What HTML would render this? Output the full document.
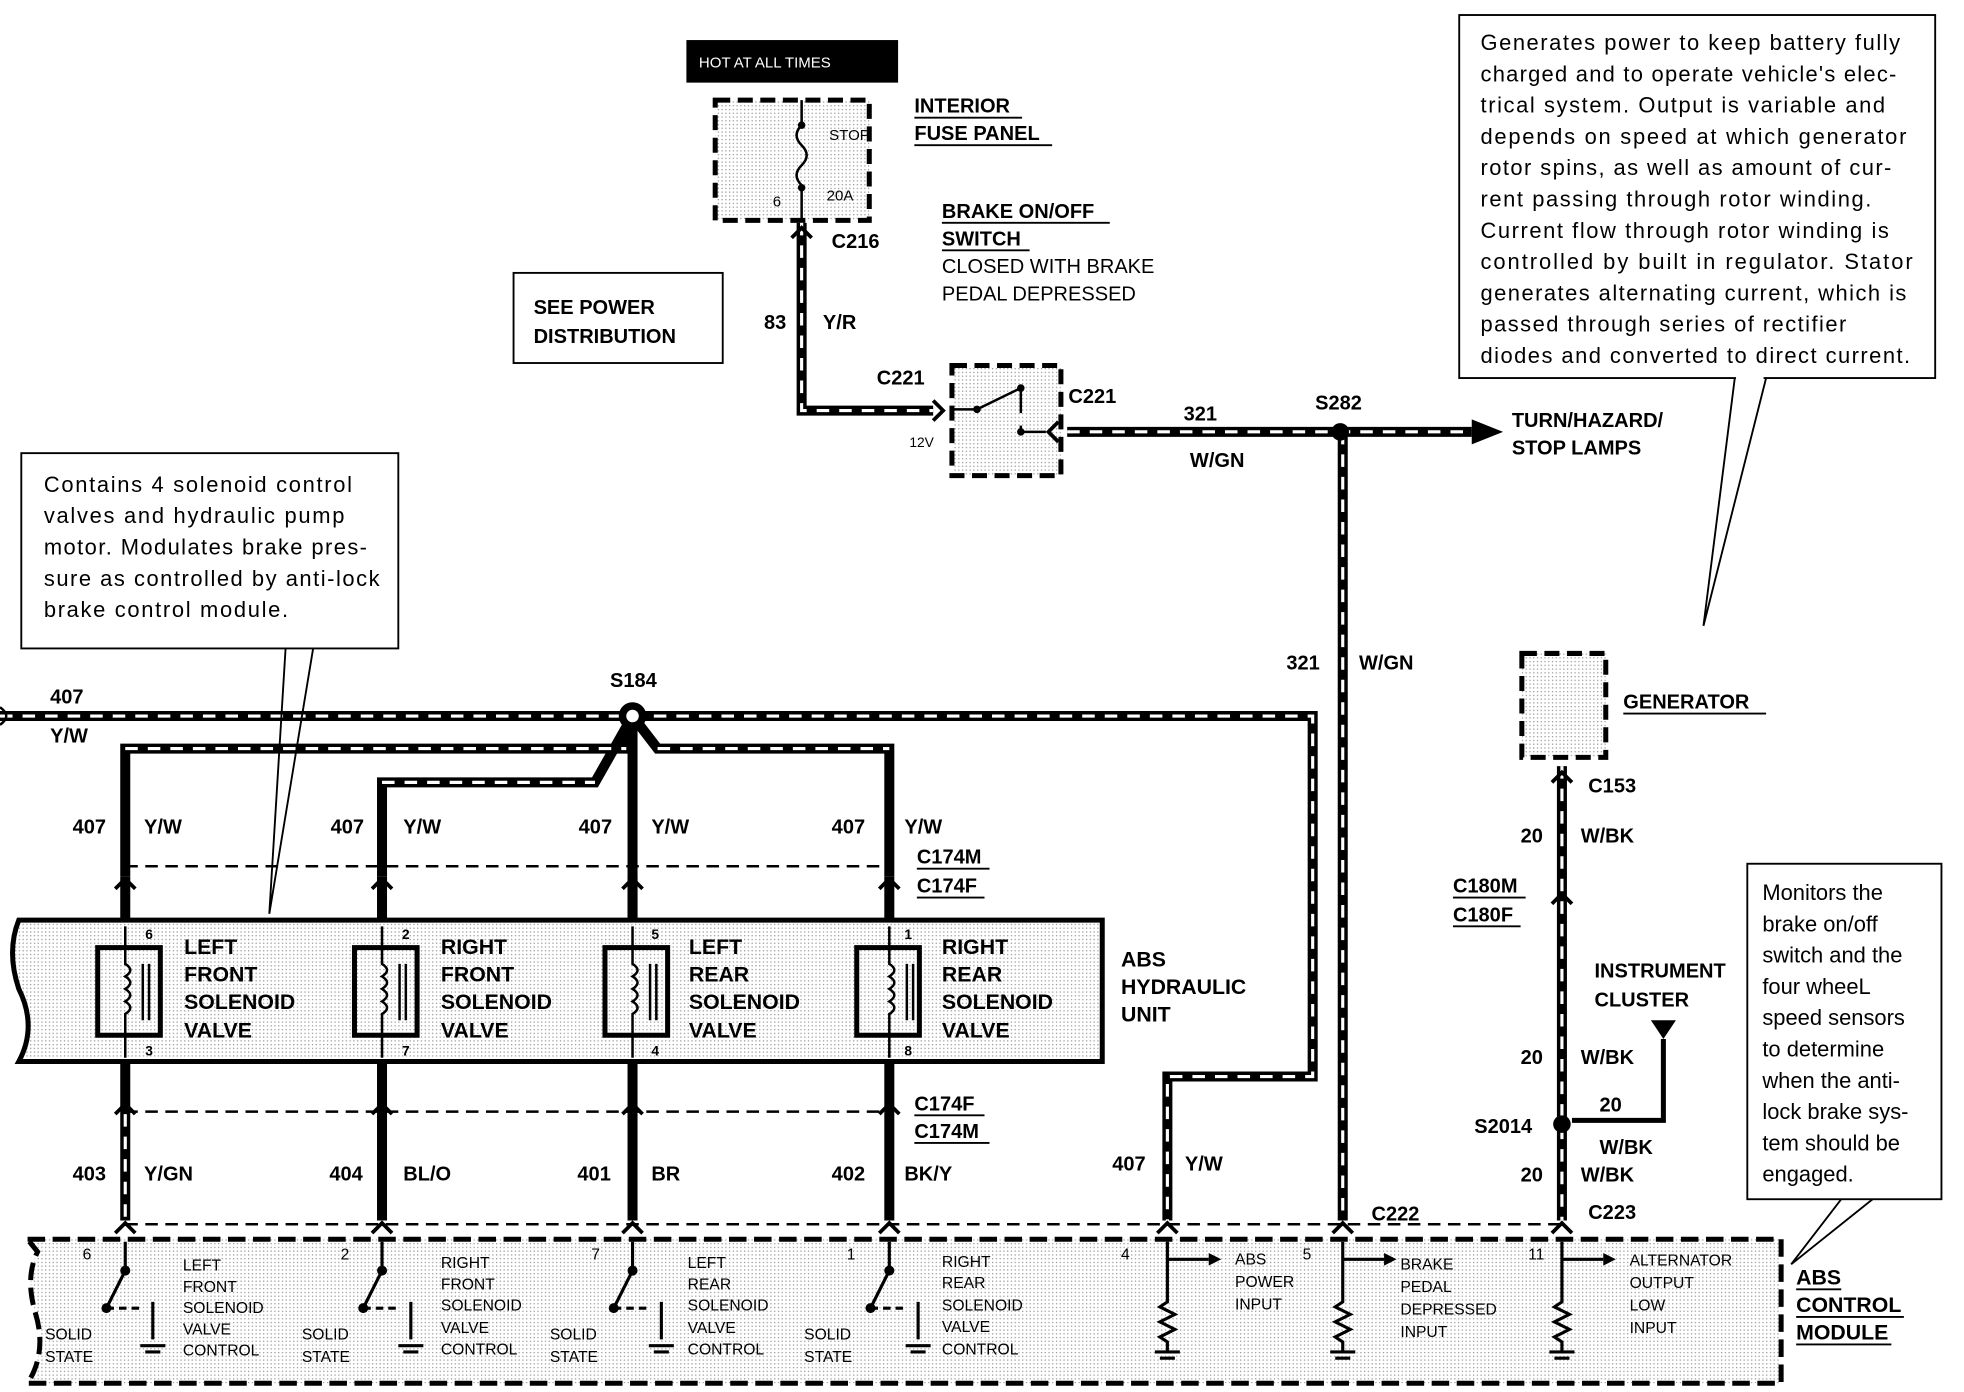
<!DOCTYPE html>
<html><head><meta charset="utf-8"><style>
html,body{margin:0;padding:0;background:#fff;}
svg{display:block}
text{font-family:"Liberation Sans",Arial,sans-serif;fill:#000}
.b{font-weight:bold;font-size:16px}
.n{font-size:17px}
.s{font-size:12px}
</style></head><body>
<svg width="1964" height="1392" viewBox="0 0 1568 1112" preserveAspectRatio="none" xmlns="http://www.w3.org/2000/svg">
<defs>
<pattern id="g" width="3" height="3" patternUnits="userSpaceOnUse"><rect width="3" height="3" fill="#fff"/><rect width="1" height="1" fill="#999"/></pattern>
</defs>
<rect width="1568" height="1112" fill="#fff"/>

<rect x="548" y="32" width="169" height="34" fill="#000"/>
<text x="558" y="54" style="font-size:12px;fill:#fff">HOT AT ALL TIMES</text>
<rect x="571" y="80" width="123" height="96" fill="url(#g)" stroke="#000" stroke-width="4" stroke-dasharray="12,6"/>
<path d="M640 80 V100 M640 100 q-8 8 0 16 q8 8 0 16 q-8 8 0 16 V176" stroke="#000" stroke-width="2" fill="none"/>
<circle cx="640" cy="100" r="3"/><circle cx="640" cy="150" r="3"/>
<text x="662" y="112" class="s">STOP</text><text x="660" y="160" class="s">20A</text><text x="617" y="165" class="s">6</text>
<text x="730" y="90" class="b">INTERIOR</text><text x="730" y="112" class="b">FUSE PANEL</text>
<path d="M730 94H816M730 116H840" stroke="#000" stroke-width="1.5"/>
<text x="664" y="198" class="b">C216</text>
<text x="752" y="174" class="b">BRAKE ON/OFF</text><text x="752" y="196" class="b">SWITCH</text>
<path d="M752 178H886M752 200H822" stroke="#000" stroke-width="1.5"/>
<text x="752" y="218" style="font-size:16px">CLOSED WITH BRAKE</text>
<text x="752" y="240" style="font-size:16px">PEDAL DEPRESSED</text>
<rect x="410" y="218" width="167" height="72" fill="#fff" stroke="#000" stroke-width="1.5"/>
<text x="426" y="251" class="b">SEE POWER</text><text x="426" y="274" class="b">DISTRIBUTION</text>
<text x="610" y="263" class="b">83</text><text x="657" y="263" class="b">Y/R</text>
<text x="700" y="307" class="b">C221</text><text x="853" y="322" class="b">C221</text>
<text x="726" y="357" style="font-size:11px">12V</text>

<rect x="760" y="292" width="87" height="88" fill="url(#g)" stroke="#000" stroke-width="4" stroke-dasharray="12,6"/>
<path d="M760 327H780L815 310M815 310V330M815 345H835M815 345V340" stroke="#000" stroke-width="2" fill="none"/>
<circle cx="780" cy="327" r="3"/><circle cx="815" cy="310" r="3"/><circle cx="815" cy="345" r="3"/>

<g fill="none" stroke-linejoin="miter">
<g stroke="#000" stroke-width="8">
<path d="M640 178V328H745"/>
<path d="M852 345H1175"/>
<path d="M1072 345V975"/>
<path d="M0 572H1048V860H932V975"/>
<path d="M100 700V598H500L505 572M305 700V625H475L505 572M505 572V975M505 572L525 598H710V700"/>
<path d="M100 848V975M305 848V975M710 848V975M100 700V735M305 700V735M505 700V735M710 700V735"/>
<path d="M1247 612V975"/>
</g>
<g stroke="#fff" stroke-width="2.5" stroke-dasharray="10,8">
<path d="M640 178V328H745"/>
<path d="M852 345H1175"/>
<path d="M1072 345V975"/>
<path d="M0 572H1048V860H932V975"/>
<path d="M100 598H500M305 625H475M525 598H710"/>
<path d="M100 890V975"/>
<path d="M1247 612V975"/>
</g>
</g>
<path d="M1175 335L1200 345L1175 355Z"/>
<circle cx="1070" cy="345" r="7" fill="#000"/>
<circle cx="505" cy="572" r="11" fill="#000"/><circle cx="505" cy="572" r="5" fill="#fff"/>
<path d="M0 565q10 7 0 14" stroke="#000" stroke-width="2" fill="none"/>
<!-- connector chevrons -->
<g stroke="#000" stroke-width="3" fill="none">
<path d="M92 710l8-8 8 8M297 710l8-8 8 8M497 710l8-8 8 8M702 710l8-8 8 8"/>
<path d="M92 890l8-8 8 8M297 890l8-8 8 8M497 890l8-8 8 8M702 890l8-8 8 8"/>
<path d="M92 985l8-8 8 8M297 985l8-8 8 8M497 985l8-8 8 8M702 985l8-8 8 8M924 985l8-8 8 8M1064 985l8-8 8 8M1239 985l8-8 8 8"/>
<path d="M632 190l8-8 8 8M1239 625l8-8 8 8M1239 722l8-8 8 8M745 320l8 8-8 8M845 337l-8 8 8 8"/>
</g>
<text x="1050" y="327" class="b">S282</text>
<text x="945" y="336" class="b">321</text><text x="950" y="373" class="b">W/GN</text>
<text x="1207" y="341" class="b">TURN/HAZARD/</text><text x="1207" y="363" class="b">STOP LAMPS</text>
<text x="1027" y="535" class="b">321</text><text x="1085" y="535" class="b">W/GN</text>

<rect x="1165" y="12" width="380" height="290" fill="#fff" stroke="#000" stroke-width="1.5"/>
<g style="font-size:17.5px">
<text x="1182" y="40" textLength="335">Generates power to keep battery fully</text>
<text x="1182" y="65" textLength="332">charged and to operate vehicle's elec-</text>
<text x="1182" y="90" textLength="323">trical system.  Output is variable and</text>
<text x="1182" y="115" textLength="340">depends on speed at which generator</text>
<text x="1182" y="140" textLength="328">rotor spins, as well as amount of cur-</text>
<text x="1182" y="165" textLength="312">rent passing through rotor winding.</text>
<text x="1182" y="190" textLength="326">Current flow through rotor winding is</text>
<text x="1182" y="215" textLength="345">controlled by built in regulator.  Stator</text>
<text x="1182" y="240" textLength="340">generates alternating current, which is</text>
<text x="1182" y="265" textLength="292">passed through series of rectifier</text>
<text x="1182" y="290" textLength="343">diodes and converted to direct current.</text>
</g>
<path d="M1385 302L1360 500M1410 302L1360 500" stroke="#000" stroke-width="1.5"/>
<rect x="1386" y="300" width="22" height="4" fill="#fff"/>

<rect x="17" y="362" width="301" height="156" fill="#fff" stroke="#000" stroke-width="1.5"/>
<g style="font-size:17.5px">
<text x="35" y="393" textLength="246">Contains 4 solenoid control</text>
<text x="35" y="418" textLength="240">valves and hydraulic pump</text>
<text x="35" y="443" textLength="258">motor. Modulates brake pres-</text>
<text x="35" y="468" textLength="268">sure as controlled by anti-lock</text>
<text x="35" y="493" textLength="195">brake control module.</text>
</g>
<path d="M228 518L215 730M250 518L215 730" stroke="#000" stroke-width="1.5"/>

<text x="40" y="562" class="b">407</text><text x="40" y="593" class="b">Y/W</text>
<text x="487" y="549" class="b">S184</text>
<text x="58" y="666" class="b">407</text><text x="115" y="666" class="b">Y/W</text>
<text x="264" y="666" class="b">407</text><text x="322" y="666" class="b">Y/W</text>
<text x="462" y="666" class="b">407</text><text x="520" y="666" class="b">Y/W</text>
<text x="664" y="666" class="b">407</text><text x="722" y="666" class="b">Y/W</text>
<text x="732" y="690" class="b">C174M</text><text x="732" y="713" class="b">C174F</text>
<path d="M732 694H790M732 717H786" stroke="#000" stroke-width="1.5"/>
<path d="M100 692H710M100 888H710" stroke="#000" stroke-width="2" stroke-dasharray="10,6"/>
<text x="730" y="887" class="b">C174F</text><text x="730" y="909" class="b">C174M</text>
<path d="M730 891H786M730 913H790" stroke="#000" stroke-width="1.5"/>

<path d="M15 735H880V848H15Q30 820 15 790Q5 760 15 735Z" fill="url(#g)" stroke="#000" stroke-width="4"/>
<g stroke="#000" fill="none">
<rect x="78" y="757" width="50" height="70" stroke-width="4"/>
<rect x="283" y="757" width="50" height="70" stroke-width="4"/>
<rect x="483" y="757" width="50" height="70" stroke-width="4"/>
<rect x="684" y="757" width="50" height="70" stroke-width="4"/>
</g>
<g stroke="#000" stroke-width="2" fill="none">
<path d="M100 740V770q8 5 0 10q8 5 0 10q8 5 0 10q8 5 0 10V845M305 740V770q8 5 0 10q8 5 0 10q8 5 0 10q8 5 0 10V845M505 740V770q8 5 0 10q8 5 0 10q8 5 0 10q8 5 0 10V845M710 740V770q8 5 0 10q8 5 0 10q8 5 0 10q8 5 0 10V845"/>
<path d="M114 770V815M119 770V815M319 770V815M324 770V815M519 770V815M524 770V815M724 770V815M729 770V815"/>
</g>
<g style="font-weight:bold;font-size:11px">
<text x="116" y="750">6</text><text x="116" y="843">3</text>
<text x="321" y="750">2</text><text x="321" y="843">7</text>
<text x="520" y="750">5</text><text x="520" y="843">4</text>
<text x="722" y="750">1</text><text x="722" y="843">8</text>
</g>
<g class="b" style="font-size:17px">
<text x="147" y="762">LEFT</text><text x="147" y="784">FRONT</text><text x="147" y="806">SOLENOID</text><text x="147" y="829">VALVE</text>
<text x="352" y="762">RIGHT</text><text x="352" y="784">FRONT</text><text x="352" y="806">SOLENOID</text><text x="352" y="829">VALVE</text>
<text x="550" y="762">LEFT</text><text x="550" y="784">REAR</text><text x="550" y="806">SOLENOID</text><text x="550" y="829">VALVE</text>
<text x="752" y="762">RIGHT</text><text x="752" y="784">REAR</text><text x="752" y="806">SOLENOID</text><text x="752" y="829">VALVE</text>
<text x="895" y="772">ABS</text><text x="895" y="794">HYDRAULIC</text><text x="895" y="816">UNIT</text>
</g>

<text x="58" y="943" class="b">403</text><text x="115" y="943" class="b">Y/GN</text>
<text x="263" y="943" class="b">404</text><text x="322" y="943" class="b">BL/O</text>
<text x="461" y="943" class="b">401</text><text x="520" y="943" class="b">BR</text>
<text x="664" y="943" class="b">402</text><text x="722" y="943" class="b">BK/Y</text>
<text x="888" y="935" class="b">407</text><text x="946" y="935" class="b">Y/W</text>
<text x="1095" y="975" class="b">C222</text>
<path d="M100 978H1250" stroke="#000" stroke-width="2" stroke-dasharray="10,6"/>

<rect x="1215" y="522" width="67" height="83" fill="url(#g)" stroke="#000" stroke-width="4" stroke-dasharray="12,6"/>
<text x="1296" y="566" class="b">GENERATOR</text><path d="M1296 570H1410" stroke="#000" stroke-width="1.5"/>
<text x="1268" y="633" class="b">C153</text>
<text x="1214" y="673" class="b">20</text><text x="1262" y="673" class="b">W/BK</text>
<text x="1160" y="713" class="b">C180M</text><text x="1160" y="736" class="b">C180F</text>
<path d="M1160 717H1218M1160 740H1214" stroke="#000" stroke-width="1.5"/>
<text x="1273" y="781" class="b">INSTRUMENT</text><text x="1273" y="804" class="b">CLUSTER</text>
<path d="M1318 815H1338L1328 830Z"/><path d="M1328 830V895H1255" stroke="#000" stroke-width="4" fill="none"/>
<text x="1214" y="850" class="b">20</text><text x="1262" y="850" class="b">W/BK</text>
<text x="1277" y="888" class="b">20</text><text x="1277" y="922" class="b">W/BK</text>
<circle cx="1247" cy="898" r="7"/>
<text x="1177" y="905" class="b">S2014</text>
<text x="1214" y="944" class="b">20</text><text x="1262" y="944" class="b">W/BK</text>
<text x="1268" y="974" class="b">C223</text>

<rect x="1395" y="690" width="155" height="268" fill="#fff" stroke="#000" stroke-width="1.5"/>
<g style="font-size:17.5px">
<text x="1407" y="719">Monitors the</text><text x="1407" y="744">brake on/off</text>
<text x="1407" y="769">switch and the</text><text x="1407" y="794">four wheeL</text>
<text x="1407" y="819">speed sensors</text><text x="1407" y="844">to determine</text>
<text x="1407" y="869">when the anti-</text><text x="1407" y="894">lock brake sys-</text>
<text x="1407" y="919">tem  should be</text><text x="1407" y="944">engaged.</text>
</g>
<path d="M1470 958L1430 1010M1495 958L1430 1010" stroke="#000" stroke-width="1.5"/>

<path d="M22 990H1422V1105H22Q38 1080 28 1048Q20 1020 30 1000Z" fill="url(#g)" stroke="#000" stroke-width="4" stroke-dasharray="14,6"/>
<g stroke="#000" stroke-width="2.5" fill="none">
<path d="M100 992V1015L85 1045M305 992V1015L290 1045M505 992V1015L490 1045M710 992V1015L695 1045"/>
<path d="M85 1045H115M290 1045H320M490 1045H520M695 1045H725" stroke-dasharray="6,4"/>
<path d="M122 1040V1070M328 1040V1070M528 1040V1070M733 1040V1070"/>
<path d="M112 1075H132M116 1080H128M318 1075H338M322 1080H334M518 1075H538M522 1080H534M723 1075H743M727 1080H739"/>
<path d="M932 992V1040l-6 4 12 6-12 6 12 6-12 6 6 4V1080M1072 992V1040l-6 4 12 6-12 6 12 6-12 6 6 4V1080M1247 992V1040l-6 4 12 6-12 6 12 6-12 6 6 4V1080"/>
<path d="M922 1080H942M926 1085H938M1062 1080H1082M1066 1085H1078M1237 1080H1257M1241 1085H1253"/>
<path d="M932 1006H965M1072 1006H1105M1247 1006H1280"/>
</g>
<g fill="#000"><circle cx="100" cy="1015" r="4"/><circle cx="305" cy="1015" r="4"/><circle cx="505" cy="1015" r="4"/><circle cx="710" cy="1015" r="4"/>
<circle cx="85" cy="1045" r="4"/><circle cx="290" cy="1045" r="4"/><circle cx="490" cy="1045" r="4"/><circle cx="695" cy="1045" r="4"/></g>
<path d="M965 1001L975 1006L965 1011ZM1105 1001L1115 1006L1105 1011ZM1280 1001L1290 1006L1280 1011Z"/>
<g style="font-size:12.5px">
<text x="146" y="1015">LEFT</text><text x="146" y="1032">FRONT</text><text x="146" y="1049">SOLENOID</text><text x="146" y="1066">VALVE</text><text x="146" y="1083">CONTROL</text>
<text x="352" y="1013">RIGHT</text><text x="352" y="1030">FRONT</text><text x="352" y="1047">SOLENOID</text><text x="352" y="1065">VALVE</text><text x="352" y="1082">CONTROL</text>
<text x="549" y="1013">LEFT</text><text x="549" y="1030">REAR</text><text x="549" y="1047">SOLENOID</text><text x="549" y="1065">VALVE</text><text x="549" y="1082">CONTROL</text>
<text x="752" y="1012">RIGHT</text><text x="752" y="1029">REAR</text><text x="752" y="1047">SOLENOID</text><text x="752" y="1064">VALVE</text><text x="752" y="1082">CONTROL</text>
<text x="36" y="1070">SOLID</text><text x="36" y="1088">STATE</text>
<text x="241" y="1070">SOLID</text><text x="241" y="1088">STATE</text>
<text x="439" y="1070">SOLID</text><text x="439" y="1088">STATE</text>
<text x="642" y="1070">SOLID</text><text x="642" y="1088">STATE</text>
<text x="986" y="1010">ABS</text><text x="986" y="1028">POWER</text><text x="986" y="1046">INPUT</text>
<text x="1118" y="1014">BRAKE</text><text x="1118" y="1032">PEDAL</text><text x="1118" y="1050">DEPRESSED</text><text x="1118" y="1068">INPUT</text>
<text x="1301" y="1011">ALTERNATOR</text><text x="1301" y="1029">OUTPUT</text><text x="1301" y="1047">LOW</text><text x="1301" y="1065">INPUT</text>
<text x="66" y="1006">6</text><text x="272" y="1006">2</text><text x="472" y="1006">7</text><text x="676" y="1006">1</text>
<text x="895" y="1006">4</text><text x="1040" y="1006">5</text><text x="1220" y="1006">11</text>
</g>
<g class="b" style="font-size:17px">
<text x="1434" y="1026">ABS</text><text x="1434" y="1048">CONTROL</text><text x="1434" y="1070">MODULE</text>
</g>
<path d="M1434 1030H1470M1434 1052H1520M1434 1074H1510" stroke="#000" stroke-width="1.5"/>
</svg>
</body></html>
